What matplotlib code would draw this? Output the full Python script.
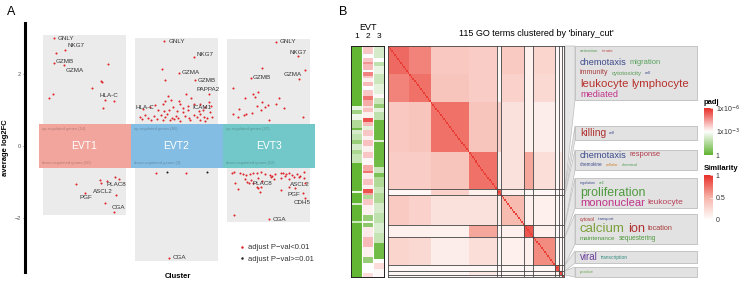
import numpy as np
import matplotlib.pyplot as plt
from matplotlib.colors import LinearSegmentedColormap
from matplotlib.patches import Rectangle, Polygon
from matplotlib.lines import Line2D

plt.rcParams['font.family'] = ['Liberation Sans', 'DejaVu Sans']

W, H = 744, 287

# ---------------- panel A data ----------------
clusters = ['EVT1', 'EVT2', 'EVT3']
band_cols = ['#F2A59C', '#83BDE3', '#72C8C8']
up_counts = [14, 85, 37]
down_counts = [10, 3, 52]

# labelled genes (jitter within cluster, average log2FC)
evt1_genes = ['GNLY', 'NKG7', 'GZMB', 'GZMA', 'HLA-C', 'PLAC8', 'ASCL2', 'PGF', 'CGA']
evt1_gjit = [-0.33, -0.21, -0.33, -0.22, 0.22, 0.18, 0.34, 0.01, 0.32]
evt1_gfc = [3.00, 2.67, 2.31, 2.25, 1.28, -1.03, -1.36, -1.31, -1.83]
evt1_jit = [-0.31, 0.26, 0.18, 0.19, 0.08, -0.34, -0.39, 0.32, 0.20,
            -0.09, 0.17, 0.24, 0.33, 0.38, 0.22]
evt1_fc = [2.58, 2.28, 1.81, 1.78, 1.61, 1.44, 1.33, 1.25, 1.06,
           -1.06, -0.94, -0.97, -0.86, -0.92, -1.58]

evt2_genes = ['GNLY', 'NKG7', 'GZMA', 'GZMB', 'PAPPA2', 'ICAM1', 'HLA-C', 'CGA']
evt2_gjit = [-0.14, 0.19, 0.03, 0.20, 0.35, 0.35, -0.15, -0.08]
evt2_gfc = [2.92, 2.47, 2.03, 1.83, 1.44, 1.22, 1.17, -3.11]
evt2_jit = [-0.16, -0.13, 0.10, -0.09, -0.06, -0.13, 0.03, 0.16, -0.23, 0.04,
            0.12, 0.19, 0.26, -0.29, -0.04, 0.07, 0.31, 0.37, -0.36, -0.20,
            -0.14, -0.08, 0.00, 0.07, 0.13, 0.24, 0.29, 0.36, -0.40, -0.34,
            -0.31, -0.25, -0.17, -0.12, -0.10, -0.05, -0.01, 0.02, 0.09, 0.14,
            0.19, 0.22, 0.26, 0.30, 0.33, 0.39, -0.38, -0.28, -0.21, -0.15,
            -0.07, -0.03, 0.04, 0.15, 0.26, 0.31, -0.22, 0.10]
evt2_fc = [2.14, 1.83, 1.44, 1.39, 1.28, 1.25, 1.25, 1.32, 1.14, 1.16,
           1.12, 1.16, 1.18, 1.09, 1.09, 1.06, 1.09, 1.10, 1.02, 1.00,
           0.98, 1.01, 0.97, 0.95, 1.01, 0.97, 1.01, 0.95, 0.81, 0.86,
           0.79, 0.84, 0.86, 0.81, 0.88, 0.79, 0.84, 0.77, 0.84, 0.79,
           0.86, 0.81, 0.88, 0.81, 0.77, 0.81, 0.75, 0.73, 0.75, 0.73,
           0.72, 0.74, 0.70, 0.72, 0.73, 0.69, -0.75, -0.75]
evt2_ns_jit = [-0.10, 0.33]
evt2_ns_fc = [-0.72, -0.72]

evt3_genes = ['GNLY', 'NKG7', 'GZMA', 'GZMB', 'PLAC8', 'ASCL2', 'PGF', 'CDH5', 'CGA']
evt3_gjit = [0.08, 0.32, 0.40, -0.19, -0.21, 0.40, 0.37, 0.40, 0.01]
evt3_gfc = [2.90, 2.50, 2.11, 1.90, -1.04, -1.04, -1.30, -1.45, -2.04]
evt3_jit = [0.33, -0.07, -0.39, -0.17, -0.15, -0.11, -0.26, 0.11, 0.08, -0.07,
            -0.12, -0.04, -0.01, -0.08, 0.17, -0.32, -0.39, -0.33, -0.27, -0.24,
            -0.18, 0.00, 0.37,
            -0.40, -0.38, -0.31, -0.28, -0.24, -0.20, -0.17, -0.12, -0.08, -0.04,
            0.02, 0.04, 0.07, 0.13, 0.16, 0.19, 0.22, 0.25, 0.31, 0.34,
            0.39, -0.26, -0.23, -0.19, -0.17, -0.11, -0.07, 0.03, 0.06, 0.13,
            0.18, 0.22, 0.28, 0.33, 0.38, -0.13, -0.11, -0.08, -0.36, -0.33,
            -0.09, 0.14, 0.22, 0.29, -0.38]
evt3_fc = [1.87, 2.18, 1.60, 1.44, 1.37, 1.49, 1.34, 1.34, 1.16, 1.23,
           1.11, 1.09, 1.14, 1.00, 1.05, 1.02, 0.89, 0.81, 0.86, 0.88,
           0.93, 0.72, 0.81,
           -0.76, -0.71, -0.76, -0.78, -0.81, -0.78, -0.76, -0.74, -0.71, -0.78,
           -0.81, -0.83, -0.78, -0.76, -0.74, -0.78, -0.76, -0.81, -0.78, -0.83,
           -0.71, -0.93, -1.00, -0.94, -1.02, -0.90, -0.96, -0.87, -0.93, -0.90,
           -0.83, -0.93, -0.85, -0.87, -0.90, -1.13, -1.18, -1.15, -1.04, -1.20,
           -1.27, -1.22, -1.13, -1.18, -1.92]

# where the gene labels sit (x offset, y)
evt1_labpos = [(-0.29, 3.00), (-0.18, 2.78), (-0.31, 2.36), (-0.21, 2.11), (0.16, 1.39),
               (0.24, -1.06), (0.09, -1.25), (-0.06, -1.42), (0.29, -1.72)]
evt2_labpos = [(-0.09, 2.89), (0.22, 2.53), (0.05, 2.03), (0.23, 1.83), (0.22, 1.56),
               (0.17, 1.06), (-0.45, 1.08), (-0.04, -3.11)]
evt3_labpos = [(0.125, 2.89), (0.23, 2.61), (0.16, 2.00), (-0.17, 1.89), (-0.17, -1.03),
               (0.23, -1.06), (0.21, -1.36), (0.27, -1.58), (0.04, -2.03)]

# ---------------- panel B data ----------------
go_sizes = [14, 14, 25, 18, 3, 15, 6, 14, 3, 2, 1]        # sub groups of the 115 terms
cluster_sizes = [71, 3, 15, 6, 14, 3, 2, 1]              # binary_cut clusters
sim_blocks = np.array([
    # a1    a2    b     c     k     ch    p     ca    v     po    z
    [0.78, 0.68, 0.36, 0.33, 0.05, 0.35, 0.10, 0.28, 0.05, 0.05, 0.05],
    [0.68, 0.75, 0.38, 0.33, 0.05, 0.30, 0.10, 0.25, 0.05, 0.05, 0.05],
    [0.36, 0.38, 0.75, 0.38, 0.30, 0.20, 0.10, 0.12, 0.05, 0.05, 0.05],
    [0.33, 0.33, 0.38, 0.75, 0.10, 0.20, 0.55, 0.22, 0.05, 0.15, 0.05],
    [0.05, 0.05, 0.30, 0.10, 0.80, 0.10, 0.05, 0.05, 0.05, 0.05, 0.05],
    [0.35, 0.30, 0.20, 0.20, 0.10, 0.45, 0.10, 0.10, 0.05, 0.05, 0.05],
    [0.10, 0.10, 0.10, 0.55, 0.05, 0.10, 0.85, 0.10, 0.05, 0.05, 0.05],
    [0.28, 0.25, 0.12, 0.22, 0.05, 0.10, 0.10, 0.65, 0.05, 0.05, 0.05],
    [0.05, 0.05, 0.05, 0.05, 0.05, 0.05, 0.05, 0.05, 0.85, 0.10, 0.05],
    [0.05, 0.05, 0.05, 0.15, 0.05, 0.05, 0.05, 0.05, 0.10, 0.85, 0.05],
    [0.05, 0.05, 0.05, 0.05, 0.05, 0.05, 0.05, 0.05, 0.05, 0.05, 1.00],
])

# -log10(padj) per GO term for EVT1..3, as runs of (n terms, value)
evt1_runs = [(30, 0), (2, 2.6), (2, 1.2), (3, 2.7), (4, 1.5), (1, 0.3), (2, 2.2),
             (3, 1.8), (2, 1.0), (3, 2.2), (2, 1.4), (4, 1.9), (14, 0), (1, 2.6),
             (5, 0), (1, 2.2), (8, 0), (1, 2.0), (27, 0)]
evt2_runs = [(4, 3.8), (2, 3.0), (2, 3.8), (1, 4.5), (3, 4.0), (1, 3.0), (2, 4.8),
             (1, 3.8), (2, 3.2), (2, 4.0), (2, 3.0), (3, 3.8), (2, 5.0), (3, 4.2),
             (1, 3.4), (2, 3.9), (3, 3.2), (2, 5.5), (2, 4.0), (2, 2.5), (3, 3.8),
             (2, 3.2), (3, 3.9), (3, 3.2), (3, 3.8), (3, 3.1), (3, 4.2), (1, 5.0),
             (3, 3.3), (3, 3.9), (2, 3.2), (2, 5.5), (1, 4.3), (2, 1.5), (3, 3.8),
             (5, 3.2), (3, 1.0), (1, 3.1), (2, 0.8), (5, 3.3), (5, 4.0), (5, 3.2),
             (3, 1.0), (5, 3.0), (2, 3.5)]
evt3_runs = [(6, 2.2), (2, 3.0), (2, 1.8), (4, 2.6), (5, 2.0), (5, 2.5), (2, 3.1),
             (3, 2.0), (2, 1.0), (2, 2.5), (4, 1.8), (10, 0.2), (1, 2.4), (9, 0.2),
             (3, 0.3), (3, 2.0), (2, 0.5), (5, 1.5), (3, 2.0), (5, 1.5), (5, 2.2),
             (5, 1.8), (5, 2.3), (5, 1.9), (8, 0.3), (2, 3.0), (3, 3.5), (4, 3.1)]

# word clouds, one per cluster: (word, font size, colour)
cloud_words = [
    [[('activation', 3.2, '#5A9A55'), ('innate', 3.2, '#C0504D')],
     [('chemotaxis', 6.7, '#3D4A8C'), ('migration', 5.4, '#56A05A')],
     [('immunity', 5.0, '#A83A3A'), ('cytotoxicity', 4.4, '#5A9A55'), ('cell', 3.0, '#3D4A8C')],
     [('leukocyte', 8.2, '#B8302C'), ('lymphocyte', 8.2, '#B8302C')],
     [('mediated', 6.6, '#C2338A')]],
    [[('killing', 7.5, '#B0302E'), ('cell', 3.0, '#3D4A8C')]],
    [[('chemotaxis', 6.7, '#3D4A8C'), ('response', 5.4, '#B03A48')],
     [('chemokine', 3.3, '#3D4A8C'), ('cellular', 3.0, '#D08030'), ('chemical', 3.0, '#56A05A')]],
    [[('regulation', 2.6, '#3D4A8C'), ('cell', 2.6, '#56A05A')],
     [('proliferation', 8.9, '#4E9A3E')],
     [('mononuclear', 8.0, '#C0338A'), ('leukocyte', 6.0, '#B8405A')]],
    [[('cytosol', 3.4, '#B03030'), ('transport', 3.0, '#3D4A8C')],
     [('calcium', 9.5, '#7BA03A'), ('ion', 9.2, '#B03030'), ('location', 5.2, '#A83A3A')],
     [('maintenance', 4.5, '#4E9A3E'), ('sequestering', 4.7, '#4E9A3E')]],
    [[('viral', 7.0, '#6A3D9A'), ('transcription', 3.5, '#2E8A7A')]],
    [[('positive', 3.0, '#6AA84F')]],
]
box_tops = [46, 126, 150, 178, 214, 251, 267]
box_bots = [100, 140, 170, 208, 244, 263, 277]

# ---------------- figure ----------------
fig = plt.figure(figsize=(W / 100, H / 100), dpi=100)
renderer = fig.canvas.get_renderer()


def px_axes(x0, y0, w, h):
    return fig.add_axes([x0 / W, 1 - (y0 + h) / H, w / W, h / H])


ov = px_axes(0, 0, W, H)
ov.set_xlim(0, W)
ov.set_ylim(H, 0)
ov.axis('off')

fig.text(7 / W, 1 - 12 / H, 'A', fontsize=9, va='center')
fig.text(339 / W, 1 - 12 / H, 'B', fontsize=9, va='center')

# ----- panel A -----
ax = px_axes(25, 23, 305, 249)
ax.set_xlim(0.353, 3.668)
ax.set_ylim(-3.5, 3.417)
red, black = '#E0262A', '#222222'

groups = [
    (evt1_jit, evt1_fc, [], [], evt1_genes, evt1_gjit, evt1_gfc, evt1_labpos),
    (evt2_jit, evt2_fc, evt2_ns_jit, evt2_ns_fc, evt2_genes, evt2_gjit, evt2_gfc, evt2_labpos),
    (evt3_jit, evt3_fc, [], [], evt3_genes, evt3_gjit, evt3_gfc, evt3_labpos),
]
for i, (jit, fc, nsj, nsf, genes, gj, gf, lpos) in enumerate(groups):
    c = i + 1
    allfc = list(fc) + list(gf) + list(nsf)
    top, bot = max(allfc) + 0.08, min(allfc) - 0.08
    ax.add_patch(Rectangle((c - 0.45, bot), 0.9, top - bot, fc='#EBEBEB', ec='none', zorder=0))
    ax.add_patch(Rectangle((c - 0.5, -0.6), 1.0, 1.2, fc=band_cols[i], ec='none', zorder=2))
    ax.text(c, 0, clusters[i], color='white', fontsize=7.5, ha='center', va='center', zorder=3)
    ax.text(c - 0.46, 0.47, 'up-regulated genes (%d)' % up_counts[i], fontsize=3,
            color='black', alpha=0.25, va='center', zorder=3)
    ax.text(c - 0.46, -0.47, 'down-regulated genes (%d)' % down_counts[i], fontsize=3,
            color='black', alpha=0.25, va='center', zorder=3)
    ax.scatter(c + np.array(jit), fc, s=2.2, c=red, lw=0, zorder=3)
    ax.scatter(c + np.array(gj), gf, s=2.2, c=red, lw=0, zorder=3)
    if nsj:
        ax.scatter(c + np.array(nsj), nsf, s=2.2, c=black, lw=0, zorder=3)
    for g, (lx, ly) in zip(genes, lpos):
        ax.text(c + lx, ly, g, fontsize=4.5, color='#333333', ha='left', va='center', zorder=4)

for s in ['top', 'right', 'bottom']:
    ax.spines[s].set_visible(False)
ax.spines['left'].set_linewidth(2.2)
ax.set_xticks([])
ax.set_yticks([-2, 0, 2])
ax.tick_params(axis='y', labelsize=4, colors='#555555', length=1.5, width=0.5, pad=1.5)
ax.set_ylabel('average log2FC', fontsize=5.5, fontweight='bold', labelpad=4)
ax.set_xlabel('Cluster', fontsize=5.5, fontweight='bold', labelpad=1)

handles = [Line2D([], [], ls='none', marker='o', ms=1.8, mfc=red, mec='none'),
           Line2D([], [], ls='none', marker='o', ms=1.8, mfc=black, mec='none')]
fig.legend(handles, ['adjust P\u2212val<0.01', 'adjust P\u2212val>=0.01'], loc='upper left',
           bbox_to_anchor=(239 / W, 1 - 244 / H), frameon=False, fontsize=5.5,
           handlelength=0.8, handletextpad=0.4, labelspacing=0.55, borderpad=0,
           borderaxespad=0, labelcolor='#333333')

# ----- panel B: EVT annotation -----
padj_cmap = LinearSegmentedColormap.from_list('padj', ['#63B534', '#FFFFFF', '#E8302A'])
sim_cmap = LinearSegmentedColormap.from_list('sim', ['#FFFFFF', '#F7B4A8', '#E8302A'])

padj_mat = np.column_stack([
    np.repeat([v for n, v in runs], [n for n, v in runs]) for runs in (evt1_runs, evt2_runs, evt3_runs)
])
ann = px_axes(351, 46, 33, 231)
ann.imshow(padj_mat, cmap=padj_cmap, vmin=0, vmax=6, aspect='auto', interpolation='nearest')
for x in (0.5, 1.5):
    ann.axvline(x, color='white', lw=0.8)
ann.set_xticks([])
ann.set_yticks([])
for s in ann.spines.values():
    s.set_linewidth(0.7)
    s.set_color('#222222')
ov.text(367.5, 27, 'EVT', fontsize=6.5, ha='center', va='center')
for k in range(3):
    ov.text(351 + 5.5 + 11 * k, 36, str(k + 1), fontsize=6, ha='center', va='center')

# ----- panel B: similarity heatmap -----
grp = np.repeat(np.arange(len(go_sizes)), go_sizes)
sim = sim_blocks[np.ix_(grp, grp)]
np.fill_diagonal(sim, 0.95)
hm = px_axes(388, 46, 176, 231)
hm.imshow(sim, cmap=sim_cmap, vmin=0, vmax=1, aspect='auto', interpolation='nearest')
for b in np.cumsum(cluster_sizes)[:-1] - 0.5:
    hm.axhline(b, color='#444444', lw=0.6)
    hm.axvline(b, color='#444444', lw=0.6)
hm.set_xticks([])
hm.set_yticks([])
for s in hm.spines.values():
    s.set_linewidth(0.6)
    s.set_color('#444444')
ov.text(536, 33, "115 GO terms clustered by 'binary_cut'", fontsize=6.5, ha='center', va='center')

# ----- panel B: word cloud boxes -----
edges = 46 + np.concatenate([[0], np.cumsum(cluster_sizes)]) * 231 / sum(cluster_sizes)
for j, words in enumerate(cloud_words):
    ct, cb = edges[j], edges[j + 1]
    bt, bb = box_tops[j], box_bots[j]
    ov.add_patch(Polygon([(565, ct), (575, bt), (575, bb), (565, cb)], closed=True,
                         fc='#E6E6E6', ec='#BDBDBD', lw=0.5, zorder=1))
    ov.add_patch(Rectangle((575, bt), 122, bb - bt, fc='#E2E2E2', ec='#BDBDBD', lw=0.6, zorder=2))
    line_h = (bb - bt) / len(words)
    for li, line in enumerate(words):
        y = bt + line_h * (li + 0.5)
        x = 580
        for word, size, col in line:
            t = ov.text(x, y, word, fontsize=size, color=col, ha='left', va='center', zorder=3)
            x += t.get_window_extent(renderer=renderer).width + 3

# ----- legends -----
cb1 = px_axes(704, 108, 9, 47)
cb1.imshow(np.linspace(6, 0, 100)[:, None], cmap=padj_cmap, vmin=0, vmax=6,
           aspect='auto', extent=[0, 1, 0, 6])
cb1.set_xticks([])
cb1.set_yticks([0, 3, 6])
cb1.set_yticklabels(['1', '1x10$^{-3}$', '1x10$^{-6}$'])
cb1.yaxis.tick_right()
cb1.tick_params(axis='y', labelsize=5, length=2, width=0.5, direction='in', color='white',
                pad=2, labelcolor='#333333')
for s in cb1.spines.values():
    s.set_visible(False)
ov.text(704, 102, 'padj', fontsize=5.5, fontweight='bold', ha='left', va='center')

cb2 = px_axes(704, 175, 9, 45)
cb2.imshow(np.linspace(1, 0, 100)[:, None], cmap=sim_cmap, vmin=0, vmax=1,
           aspect='auto', extent=[0, 1, 0, 1])
cb2.set_xticks([])
cb2.set_yticks([0, 0.5, 1])
cb2.set_yticklabels(['0', '0.5', '1'])
cb2.yaxis.tick_right()
cb2.tick_params(axis='y', labelsize=5, length=2, width=0.5, direction='in', color='white',
                pad=2, labelcolor='#333333')
for s in cb2.spines.values():
    s.set_visible(False)
ov.text(704, 168, 'Similarity', fontsize=5.5, fontweight='bold', ha='left', va='center')

fig.savefig('out.png', dpi=100)
